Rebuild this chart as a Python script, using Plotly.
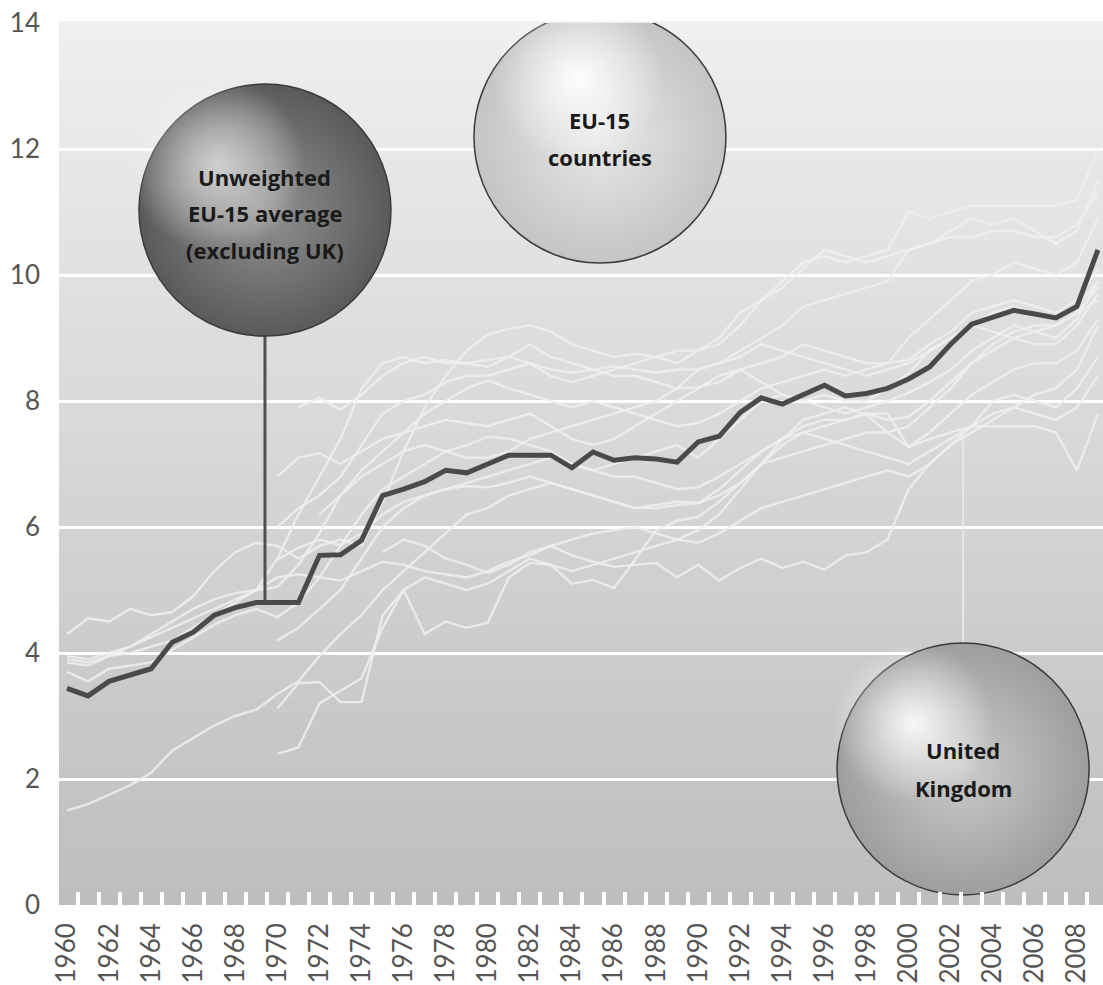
import numpy as np
import plotly.graph_objects as go

# ---------------------------------------------------------------------------
# Health spending as % of GDP, 1960-2009
# ---------------------------------------------------------------------------
years = list(range(1960, 2010))
even_years = [y for y in years if y % 2 == 0]
y_ticks = [0, 2, 4, 6, 8, 10, 12, 14]

N = None

eu15_average = [3.44, 3.32, 3.55, 3.65, 3.75, 4.17, 4.33, 4.60, 4.72, 4.80,
                4.80, 4.80, 5.55, 5.56, 5.79, 6.50, 6.60, 6.72, 6.90, 6.86,
                7.00, 7.14, 7.14, 7.14, 6.94, 7.19, 7.06, 7.10, 7.08, 7.03,
                7.35, 7.44, 7.82, 8.05, 7.95, 8.10, 8.25, 8.08, 8.12, 8.20,
                8.35, 8.54, 8.90, 9.22, 9.33, 9.44, 9.38, 9.32, 9.50, 10.40]

united_kingdom = [3.90, 3.85, 3.95, 4.00, 4.10, 4.20, 4.40, 4.60, 4.80, 5.00,
                  5.20, 5.25, 5.20, 5.15, 5.30, 5.45, 5.40, 5.30, 5.25, 5.20,
                  5.30, 5.45, 5.55, 5.70, 5.55, 5.45, 5.37, 5.40, 5.43, 5.20,
                  5.40, 5.15, 5.35, 5.50, 5.35, 5.45, 5.32, 5.55, 5.60, 5.80,
                  6.60, 7.00, 7.30, 7.50, 7.70, 7.90, 8.10, 8.20, 8.50, 9.20]

country_a = [4.30, 4.55, 4.50, 4.70, 4.60, 4.65, 4.90, 5.30, 5.60, 5.75,
             5.70, 5.50, 5.70, 5.80, 5.70, 6.40, 7.20, 7.90, 8.40, 8.80,
             9.05, 9.15, 9.20, 9.10, 8.90, 8.80, 8.70, 8.75, 8.70, 8.80,
             8.80, 8.90, 9.20, 9.60, 9.90, 10.20, 10.30, 10.20, 10.30, 10.40,
             11.00, 10.90, 11.00, 11.10, 11.10, 11.10, 11.10, 11.10, 11.20, 12.00]

country_b = [3.95, 3.90, 4.00, 4.10, 4.25, 4.40, 4.55, 4.70, 4.85, 5.00,
             5.50, 6.20, 6.80, 7.40, 8.20, 8.60, 8.70, 8.60, 8.65, 8.60,
             8.65, 8.70, 8.60, 8.50, 8.45, 8.50, 8.55, 8.50, 8.45, 8.50,
             8.50, 8.60, 8.80, 9.00, 9.20, 9.50, 9.60, 9.70, 9.80, 9.90,
             10.40, 10.50, 10.60, 10.60, 10.70, 10.70, 10.60, 10.60, 10.80, 11.30]

country_c = [N, N, N, N, N, N, N, N, N, N,
             N, 7.90, 8.05, 7.86, 8.10, 8.40, 8.60, 8.70, 8.60, 8.60,
             8.54, 8.70, 8.90, 8.70, 8.60, 8.50, 8.40, 8.40, 8.30, 8.20,
             8.22, 8.30, 8.50, 8.30, 8.10, 8.00, 8.10, 8.00, 8.00, 8.20,
             8.44, 8.80, 9.00, 9.20, 9.10, 9.00, 8.90, 8.90, 9.20, 9.70]

country_d = [3.85, 3.80, 3.95, 4.10, 4.30, 4.50, 4.70, 4.85, 4.95, 5.00,
             5.05, 5.40, 5.90, 6.50, 6.90, 7.20, 7.50, 7.80, 8.00, 8.20,
             8.33, 8.20, 8.10, 8.00, 7.90, 8.00, 7.90, 7.80, 7.70, 7.60,
             7.65, 7.80, 8.00, 8.20, 8.30, 8.40, 8.50, 8.40, 8.50, 8.60,
             9.00, 9.30, 9.60, 9.90, 10.00, 10.20, 10.10, 10.00, 10.20, 10.90]

country_e = [N, N, N, N, N, N, N, N, N, N,
             6.80, 7.10, 7.17, 7.00, 7.20, 7.40, 7.50, 7.60, 7.70, 7.65,
             7.60, 7.70, 7.80, 7.60, 7.40, 7.30, 7.40, 7.60, 7.80, 8.00,
             8.20, 8.40, 8.50, 8.60, 8.70, 8.90, 8.80, 8.70, 8.60, 8.60,
             8.65, 8.90, 9.10, 9.40, 9.50, 9.60, 9.50, 9.40, 9.60, 10.10]

country_f = [3.70, 3.55, 3.75, 3.80, 3.85, 4.05, 4.25, 4.45, 4.60, 4.70,
             4.57, 4.80, 5.20, 5.70, 6.20, 6.60, 6.80, 7.00, 7.20, 7.30,
             7.43, 7.40, 7.30, 7.20, 7.00, 6.90, 7.00, 7.10, 7.20, 7.30,
             7.10, 7.40, 7.70, 8.00, 8.10, 8.00, 7.90, 7.80, 7.90, 8.00,
             8.13, 8.30, 8.50, 8.80, 9.00, 9.20, 9.10, 9.00, 9.30, 9.90]

country_g = [1.50, 1.60, 1.75, 1.90, 2.10, 2.45, 2.65, 2.85, 3.00, 3.10,
             3.35, 3.55, 3.95, 4.30, 4.60, 5.00, 5.30, 5.60, 5.90, 6.20,
             6.30, 6.50, 6.60, 6.70, 6.60, 6.50, 6.40, 6.30, 6.35, 6.40,
             6.38, 6.60, 6.90, 7.20, 7.40, 7.60, 7.70, 7.70, 7.80, 7.70,
             7.75, 8.00, 8.30, 8.60, 8.80, 9.00, 9.10, 9.20, 9.40, 9.60]

country_h = [N, N, N, N, N, N, N, N, N, N,
             3.12, 3.52, 3.54, 3.22, 3.22, 4.60, 5.00, 4.30, 4.50, 4.40,
             4.48, 5.20, 5.43, 5.40, 5.10, 5.16, 5.03, 5.48, 5.95, 6.10,
             6.16, 6.40, 6.70, 7.00, 7.10, 7.20, 7.30, 7.40, 7.50, 7.50,
             7.60, 7.90, 8.20, 8.60, 8.90, 9.10, 9.20, 9.20, 9.40, 9.80]

country_i = [N, N, N, N, N, N, N, N, N, N,
             2.40, 2.50, 3.20, 3.40, 3.60, 4.40, 5.00, 5.20, 5.10, 5.00,
             5.10, 5.30, 5.50, 5.40, 5.30, 5.40, 5.50, 5.60, 5.70, 5.80,
             5.95, 6.20, 6.60, 7.00, 7.30, 7.50, 7.60, 7.70, 7.80, 7.80,
             7.27, 7.50, 7.80, 8.10, 8.30, 8.50, 8.60, 8.60, 8.80, 9.30]

country_j = [N, N, N, N, N, N, N, N, N, N,
             4.20, 4.40, 4.70, 5.00, 5.50, 6.00, 6.30, 6.50, 6.60, 6.70,
             6.80, 6.90, 7.00, 7.10, 7.00, 6.90, 6.80, 6.80, 6.70, 6.60,
             6.63, 6.80, 7.00, 7.20, 7.40, 7.50, 7.40, 7.30, 7.20, 7.10,
             7.00, 7.20, 7.40, 7.60, 7.80, 7.90, 7.80, 7.70, 7.90, 8.40]

country_k = [N, N, N, N, N, N, N, N, N, N,
             5.48, 5.67, 5.80, 5.71, 5.90, 6.20, 6.40, 6.50, 6.60, 6.65,
             6.63, 6.70, 6.80, 6.70, 6.60, 6.50, 6.40, 6.30, 6.30, 6.35,
             6.38, 6.50, 6.70, 7.00, 7.40, 7.70, 7.80, 7.90, 7.78, 7.50,
             7.27, 7.40, 7.50, 7.60, 7.60, 7.60, 7.60, 7.50, 6.90, 7.80]

country_l = [N, N, N, N, N, N, N, N, N, N,
             N, N, N, N, N, 5.60, 5.80, 5.70, 5.50, 5.40,
             5.27, 5.40, 5.60, 5.70, 5.80, 5.90, 5.95, 6.00, 5.90, 5.80,
             5.75, 5.90, 6.10, 6.30, 6.40, 6.50, 6.60, 6.70, 6.80, 6.90,
             6.80, 7.00, 7.30, 7.60, 8.00, 8.10, 8.00, 7.90, 8.20, 8.70]

country_m = [N, N, N, N, N, N, N, N, N, N,
             N, N, 6.20, 6.50, 6.80, 7.00, 7.20, 7.30, 7.20, 7.10,
             7.10, 7.20, 7.40, 7.50, 7.60, 7.70, 7.80, 7.90, 8.00, 8.20,
             8.50, 8.60, 8.70, 8.90, 8.80, 8.70, 8.60, 8.50, 8.40, 8.50,
             8.60, 8.80, 9.00, 9.20, 9.40, 9.50, 9.40, 9.30, 9.50, 9.90]

country_n = [N, N, N, N, N, N, N, N, N, N,
             6.00, 6.30, 6.50, 6.80, 7.30, 7.80, 8.00, 8.10, 8.30, 8.40,
             8.40, 8.50, 8.60, 8.40, 8.30, 8.40, 8.50, 8.60, 8.70, 8.60,
             8.80, 9.00, 9.40, 9.60, 9.80, 10.10, 10.40, 10.30, 10.20, 10.30,
             10.40, 10.50, 10.70, 10.90, 10.80, 10.90, 10.70, 10.50, 10.70, 11.50]

eu_countries = [country_a, country_b, country_c, country_d, country_e,
                country_f, country_g, country_h, country_i, country_j,
                country_k, country_l, country_m, country_n]

# ---------------------------------------------------------------------------
# Geometry
# ---------------------------------------------------------------------------
W, H = 1103, 985
M_L, M_R, M_T, M_B = 59, 0, 23, 80
X_RANGE = [1959.62, 2009.24]
Y_RANGE = [0, 14]
px_per_year = (W - M_L - M_R) / (X_RANGE[1] - X_RANGE[0])
px_per_unit = (H - M_T - M_B) / (Y_RANGE[1] - Y_RANGE[0])


def dx(px):
    return px / px_per_year


def dy(px):
    return px / px_per_unit


fig = go.Figure()

# vertical gradient background: light at the top, darker towards the bottom
n_bands = 60
top_rgb, bottom_rgb = 239, 190
for i in range(n_bands):
    t = (i + 0.5) / n_bands
    v = int(round(top_rgb + (bottom_rgb - top_rgb) * t))
    fig.add_shape(type="rect", xref="x domain", yref="y domain",
                  x0=0, x1=1, y0=1 - (i + 1) / n_bands, y1=1 - i / n_bands + 0.002,
                  fillcolor=f"rgb({v},{v},{v})", line_width=0, layer="below")

# individual EU-15 countries (faint lines)
light_line = dict(color="rgba(238,238,238,0.85)", width=2.4)
for series in eu_countries:
    fig.add_trace(go.Scatter(x=years, y=series, mode="lines", line=light_line,
                             connectgaps=False, hoverinfo="skip", showlegend=False))

fig.add_trace(go.Scatter(x=years, y=united_kingdom, mode="lines", line=light_line,
                         hoverinfo="skip", showlegend=False))

# unweighted average
fig.add_trace(go.Scatter(x=years, y=eu15_average, mode="lines",
                         line=dict(color="#4a4a4a", width=5),
                         hoverinfo="skip", showlegend=False))

# ---------------------------------------------------------------------------
# Label bubbles
# ---------------------------------------------------------------------------
BUBBLE_D = 252


def bubble(xc, yc, edge, centre, glow, glow_off, glow_size, lines, offsets):
    fig.add_trace(go.Scatter(
        x=[xc], y=[yc], mode="markers", hoverinfo="skip", showlegend=False,
        marker=dict(size=BUBBLE_D, color=edge,
                    gradient=dict(type="radial", color=centre),
                    line=dict(color="#3a3a3a", width=1.5))))
    # soft highlight towards the upper left
    fig.add_trace(go.Scatter(
        x=[xc + dx(glow_off[0])], y=[yc + dy(glow_off[1])], mode="markers",
        hoverinfo="skip", showlegend=False,
        marker=dict(size=glow_size, color="rgba(255,255,255,0)",
                    gradient=dict(type="radial", color=glow),
                    line=dict(width=0))))
    for text, off in zip(lines, offsets):
        fig.add_annotation(x=xc, y=yc, yshift=-off, text=f"<b>{text}</b>",
                           showarrow=False,
                           font=dict(family="Open Sans", size=22, color="#1a1a1a"))


# stem from the average bubble down to the average line
avg_bx, avg_by = 1969.41, 11.03
avg_stem_y = float(np.interp(avg_bx, years, eu15_average))
fig.add_trace(go.Scatter(x=[avg_bx, avg_bx], y=[avg_stem_y, avg_by], mode="lines",
                         line=dict(color="#505050", width=3),
                         hoverinfo="skip", showlegend=False))

# stem from the UK bubble up to the UK line
uk_bx, uk_by = 2002.59, 2.16
uk_stem_y = float(np.interp(uk_bx, years, united_kingdom))
fig.add_trace(go.Scatter(x=[uk_bx, uk_bx], y=[uk_by, uk_stem_y], mode="lines",
                         line=dict(color="rgba(232,232,232,0.95)", width=2),
                         hoverinfo="skip", showlegend=False))

bubble(avg_bx, avg_by, "#5a5a5a", "#939393", "rgba(222,222,222,0.85)", (-48, 45), 175,
       ["Unweighted", "EU-15 average", "(excluding UK)"], [-33, 3, 40])
bubble(1985.33, 12.19, "#c4c4c4", "#e8e8e8", "rgba(255,255,255,0.95)", (-22, 58), 170,
       ["EU-15", "countries"], [-17, 20])
bubble(uk_bx, uk_by, "#9e9e9e", "#cbcbcb", "rgba(255,255,255,0.9)", (-50, 46), 160,
       ["United", "Kingdom"], [-19, 19])

# ---------------------------------------------------------------------------
# Axes
# ---------------------------------------------------------------------------
tick_font = dict(family="Lato", size=26, color="#555555")
fig.update_xaxes(
    range=X_RANGE, tickmode="array", tickvals=even_years,
    ticktext=[str(y) for y in even_years], tickangle=-90, tickfont=tick_font,
    ticks="", showgrid=False, zeroline=False, showline=False,
    ticklabelstandoff=12,
    minor=dict(tickmode="array", tickvals=[y + 0.5 for y in years[:-1]],
               ticks="inside", ticklen=13, tickwidth=4, tickcolor="white",
               showgrid=False),
)
fig.update_yaxes(
    range=Y_RANGE, tickmode="array", tickvals=y_ticks,
    ticktext=[str(v) for v in y_ticks], tickfont=tick_font,
    ticks="", showgrid=True, gridcolor="white", gridwidth=3,
    zeroline=False, showline=False, ticklabelstandoff=18,
)

fig.update_layout(
    width=W, height=H, autosize=False,
    margin=dict(l=M_L, r=M_R, t=M_T, b=M_B),
    paper_bgcolor="white", plot_bgcolor="rgb(215,215,215)",
    showlegend=False,
)

fig.write_html("out.html", config={"displayModeBar": False})
